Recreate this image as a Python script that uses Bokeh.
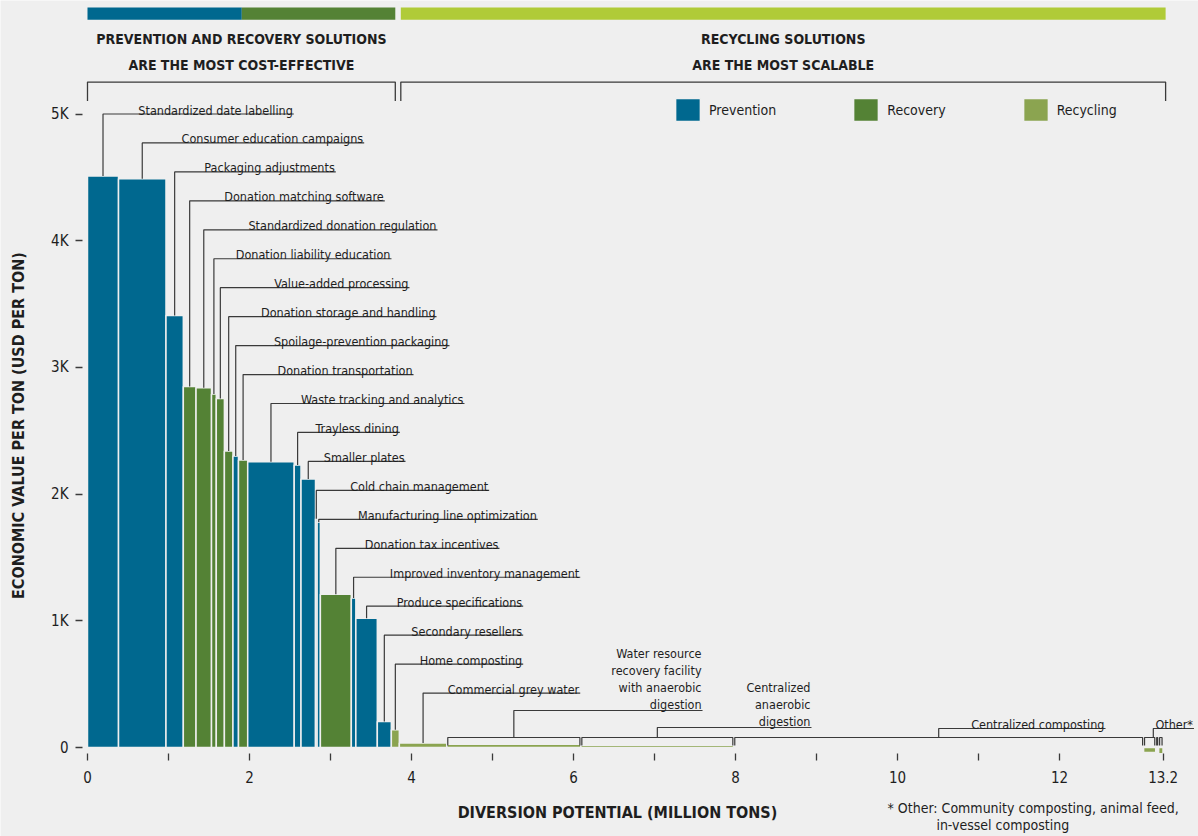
import math
import numpy as np
from bokeh.plotting import figure
from bokeh.models import Range1d, ColumnDataSource, Label, FixedTicker
from bokeh.core.properties import value
from bokeh.embed import file_html
from bokeh.resources import INLINE

# ---------------- data ----------------
solutions = [
    "Standardized date labelling", "Consumer education campaigns", "Packaging adjustments",
    "Donation matching software", "Standardized donation regulation", "Donation liability education",
    "Value-added processing", "Donation storage and handling", "Spoilage-prevention packaging",
    "Donation transportation", "Waste tracking and analytics", "Trayless dining", "Smaller plates",
    "Cold chain management", "Manufacturing line optimization", "Donation tax incentives",
    "Improved inventory management", "Produce specifications", "Secondary resellers",
    "Home composting", "Commercial grey water",
    "Water resource recovery facility with anaerobic digestion", "Centralized anaerobic digestion",
    "Centralized composting", "Community composting", "Animal feed", "In-vessel composting",
]
category = [
    "Prevention", "Prevention", "Prevention", "Recovery", "Recovery", "Recovery", "Recovery",
    "Recovery", "Prevention", "Recovery", "Prevention", "Prevention", "Prevention", "Prevention",
    "Prevention", "Recovery", "Prevention", "Prevention", "Prevention", "Recycling", "Recycling",
    "Recycling", "Recycling", "Recycling", "Recycling", "Recycling", "Recycling",
]
# diversion potential, million tons (bar widths)
diversion_mt = [0.383, 0.586, 0.214, 0.157, 0.191, 0.059, 0.100, 0.106, 0.068, 0.114,
                0.574, 0.084, 0.179, 0.020, 0.040, 0.382, 0.056, 0.265, 0.173, 0.099,
                0.586, 1.655, 1.888, 5.059, 0.150, 0.036, 0.054]
# economic value, USD per ton (bar heights)
value_usd = [4510, 4490, 3410, 2850, 2840, 2790, 2755, 2340, 2300, 2270,
             2255, 2230, 2120, 1805, 1780, 1210, 1180, 1020, 205, 140,
             35, 25, 18, 10, -40, -10, -50]

y_ticks = [0, 1000, 2000, 3000, 4000, 5000]
y_tick_labels = ["0", "1K", "2K", "3K", "4K", "5K"]
x_ticks = list(range(0, 13))
x_title = "DIVERSION POTENTIAL (MILLION TONS)"
y_title = "ECONOMIC VALUE PER TON (USD PER TON)"
header_left = ["PREVENTION AND RECOVERY SOLUTIONS", "ARE THE MOST COST-EFFECTIVE"]
header_right = ["RECYCLING SOLUTIONS", "ARE THE MOST SCALABLE"]
footnote = ["* Other: Community composting, animal feed,", "in-vessel composting"]

callout_text = solutions[:21] + [
    "Water resource\nrecovery facility\nwith anaerobic\ndigestion",
    "Centralized\nanaerobic\ndigestion",
    "Centralized composting",
    "Other*",
]
callout_members = [[i] for i in range(24)] + [[24, 25, 26]]

# ---------------- layout constants ----------------
BG = "#efefef"
INK = "#1e1e1e"
LINE = "#3a3a3a"
FONT = "'DejaVu Sans Condensed', 'Roboto Condensed', Roboto, sans-serif"
colors = {"Prevention": "#00688f", "Recovery": "#548235", "Recycling": "#8ba450"}
LIME = "#b0cb38"

callout_end = [2.547, 3.416, 3.065, 3.670, 4.321, 3.753, 3.975, 4.309, 4.469, 4.025,
               4.654, 3.856, 3.926, 4.959, 5.559, 5.086, 6.083, 5.379, 5.379, 5.379,
               6.083, 7.593, 8.938, 12.568, 13.66]
callout_level = [5000 - k * 228.5 for k in range(21)] + [292, 158, 150, 150]
bracket_top, bracket_bottom = 79, 16
axis_y = -50          # where the x axis sits (just below zero)
axis_x = -0.0617      # where the y axis sits (just left of zero)

# ---------------- derived ----------------
w = np.array(diversion_mt)
right = np.cumsum(w)
left = right - w
center = (left + right) / 2
total = float(round(right[-1], 2))

src = ColumnDataSource(dict(
    left=left, right=right, top=value_usd, bottom=[0] * len(value_usd),
    category=category, color=[colors[c] for c in category], name=solutions,
))

p = figure(width=1198, height=836,
           x_range=Range1d(-1.074, 13.716), y_range=Range1d(-702.4, 5896),
           output_backend="svg", toolbar_location=None,
           min_border_left=0, min_border_right=0, min_border_top=0, min_border_bottom=0,
           background_fill_color=BG, border_fill_color=BG, outline_line_color=None)
p.grid.visible = False

# bars
p.quad(left="left", right="right", top="top", bottom="bottom", source=src,
       fill_color="color", line_color=BG, line_width=1.5, legend_group="category")

# top colour bands and headers
band_top, band_bottom = 5840, 5745
left_group = (0.0, 3.80)
right_group = (3.868, 13.31)
p.quad(left=[0.0, 1.905, right_group[0]], right=[1.905, left_group[1], right_group[1]],
       top=[band_top] * 3, bottom=[band_bottom] * 3,
       fill_color=[colors["Prevention"], colors["Recovery"], LIME], line_color=None)

hx, hy, ht = [], [], []
for grp, lines in ((left_group, header_left), (right_group, header_right)):
    for j, t in enumerate(lines):
        hx.append((grp[0] + grp[1]) / 2)
        hy.append(5591 - j * 205)
        ht.append(t)
p.text(x=hx, y=hy, text=ht, text_align="center", text_baseline="middle",
       text_font=value(FONT), text_font_style="bold", text_font_size="14px", text_color=INK)

p.multi_line(xs=[[g[0], g[0], g[1], g[1]] for g in (left_group, right_group)],
             ys=[[5102, 5252, 5252, 5102]] * 2, line_color=LINE, line_width=1.3)

# callouts
lx, ly = [], []
tx, ty, tt, toff = [], [], [], []
bx, by = [], []
for k, (txt, mem) in enumerate(zip(callout_text, callout_members)):
    lvl = callout_level[k]
    end = callout_end[k]
    if min(mem) >= 21:  # bracketed recycling items
        for i in mem:
            bx.append([left[i] + 0.012, left[i] + 0.012, right[i] - 0.012, right[i] - 0.012])
            by.append([bracket_bottom, bracket_top, bracket_top, bracket_bottom])
        cx = (left[mem[0]] + right[mem[-1]]) / 2
        start = bracket_top
    else:
        cx = center[mem[0]]
        start = value_usd[mem[0]]
    lx.append([cx, cx, end])
    ly.append([start, lvl, lvl])
    parts = txt.split("\n")
    n = len(parts)
    for j, part in enumerate(parts):
        tx.append(end)
        ty.append(lvl)
        tt.append(part)
        toff.append(-(4 if n == 1 else 6) - (n - 1 - j) * 17)

p.multi_line(xs=bx, ys=by, line_color=LINE, line_width=1.2)
p.multi_line(xs=lx, ys=ly, line_color=LINE, line_width=1.2)
p.text(x=tx, y=ty, text=tt, y_offset=toff, x_offset=-1, text_align="right",
       text_baseline="alphabetic", text_font=value(FONT), text_font_size="12.5px",
       text_color=INK)

# axes (drawn at fixed positions inside the full-canvas frame)
xa, ya = p.xaxis[0], p.yaxis[0]
xa.ticker = FixedTicker(ticks=x_ticks + [total])
ovr = {t: ("" if t % 2 else str(t)) for t in x_ticks}
ovr[total] = f"{math.floor(total * 10) / 10:g}"
xa.major_label_overrides = ovr
xa.bounds = (0, total)
xa.fixed_location = axis_y
ya.ticker = FixedTicker(ticks=y_ticks)
ya.major_label_overrides = dict(zip(y_ticks, y_tick_labels))
ya.bounds = (0, 5000)
ya.fixed_location = axis_x
for ax in (xa, ya):
    ax.axis_line_color = None
    ax.major_tick_in = 0
    ax.major_tick_out = 7
    ax.minor_tick_line_color = None
    ax.major_tick_line_color = LINE
    ax.major_tick_line_width = 1.3
    ax.major_label_text_font = FONT
    ax.major_label_text_font_size = "15px"
    ax.major_label_text_color = INK
xa.major_label_standoff = 10
ya.major_label_standoff = 7

title_style = dict(text_font=FONT, text_font_style="bold", text_font_size="16px",
                   text_color=INK, text_align="center", text_baseline="middle")
p.add_layout(Label(x=6.543, y=-513, text=x_title, **title_style))
p.add_layout(Label(x=-0.852, y=2541, text=y_title, angle=math.pi / 2, **title_style))

note_style = dict(text_font=FONT, text_font_size="14px", text_color=INK,
                  text_align="left", text_baseline="middle")
p.add_layout(Label(x=9.877, y=-474, text=footnote[0], **note_style))
p.add_layout(Label(x=10.48, y=-610, text=footnote[1], **note_style))

# legend
lg = p.legend[0]
lg.orientation = "horizontal"
lg.location = (672, 712)
lg.padding = 0
lg.margin = 0
lg.spacing = 74
lg.glyph_width = 31
lg.glyph_height = 29
lg.label_standoff = 6
lg.label_text_font = FONT
lg.label_text_font_size = "14px"
lg.label_text_color = INK
lg.background_fill_alpha = 0
lg.border_line_color = None

open("out.html", "w").write(file_html(p, INLINE))
